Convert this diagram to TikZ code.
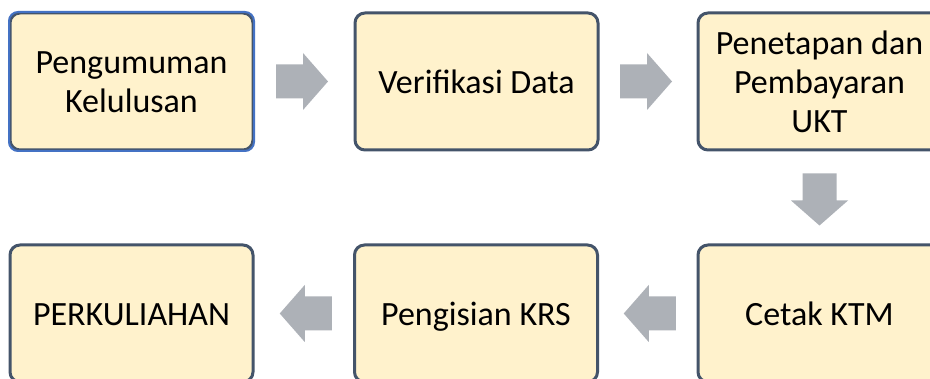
\documentclass[tikz,border=0pt]{standalone}
\usepackage{fontspec}
\setmainfont{Carlito}
\usetikzlibrary{calc}
\definecolor{boxfill}{HTML}{FFF2CC}
\definecolor{boxline}{HTML}{44546A}
\definecolor{boxblue}{HTML}{4472C4}
\definecolor{arrowgray}{HTML}{ADB1B7}
\newcommand\lnstr{\rule[-7pt]{0pt}{38pt}}
\tikzset{
  stepbox/.style={draw=boxline, line width=3pt, fill=boxfill, rounded corners=10pt,
    minimum width=243pt, minimum height=137pt, inner sep=0pt, align=center,
    font=\fontsize{34}{39}\selectfont},
  blockarr/.pic={\fill[arrowgray] (-26pt,-17pt) -- (1pt,-17pt) -- (1pt,-28.5pt) -- (26pt,0pt)
      -- (1pt,28.5pt) -- (1pt,17pt) -- (-26pt,17pt) -- cycle;}
}
\begin{document}
\begin{tikzpicture}[x=1pt,y=-1pt]
\useasboundingbox (0,0) rectangle (930,379);
\clip (0,0) rectangle (930,379);
\fill[white] (0,0) rectangle (930,379);
\node[stepbox] (b1) at (131.5,81.5) {\lnstr Pengumuman\\\lnstr Kelulusan};
\draw[boxblue, line width=2pt, rounded corners=9pt] ($(b1.south west)+(0.5,-0.5)$) rectangle ($(b1.north east)+(-0.5,0.5)$);
\node[stepbox] (b2) at (476.5,81.5) {\lnstr Verifikasi Data};
\node[stepbox] (b3) at (819.5,81.5) {\lnstr Penetapan dan\\\lnstr Pembayaran\\\lnstr UKT};
\node[stepbox] (b4) at (819.5,313.5) {\lnstr Cetak KTM};
\node[stepbox] (b5) at (476,313.5) {\lnstr Pengisian KRS};
\node[stepbox] (b6) at (131.5,313.5) {\lnstr PERKULIAHAN};
\pic at ($(b1.east)!0.5!(b2.west)+(-2,0)$) {blockarr};
\pic at ($(b2.east)!0.5!(b3.west)+(-2,0)$) {blockarr};
\pic[rotate=-90] at ($(b3.south)!0.5!(b4.north)+(0,2)$) {blockarr};
\pic[rotate=180] at ($(b4.west)!0.5!(b5.east)+(2,0)$) {blockarr};
\pic[rotate=180] at ($(b5.west)!0.5!(b6.east)+(2,0)$) {blockarr};
\end{tikzpicture}
\end{document}
